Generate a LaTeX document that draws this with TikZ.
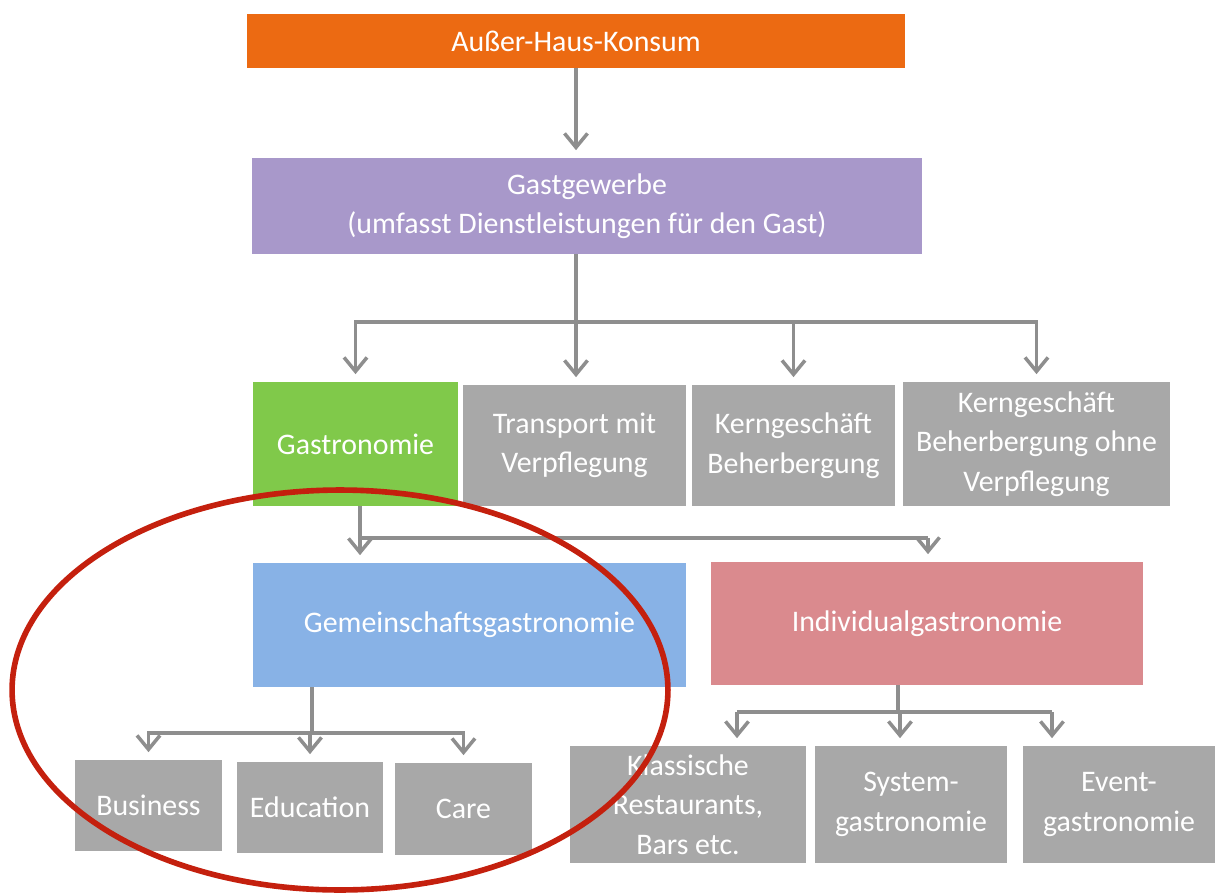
\documentclass[tikz,border=0pt]{standalone}
\usepackage{fontspec}
\setmainfont{Carlito}
\usetikzlibrary{positioning, arrows.meta, calc}
\definecolor{konsum}{HTML}{EC6A12}
\definecolor{gewerbe}{HTML}{A898CA}
\definecolor{gastro}{HTML}{80C94A}
\definecolor{grau}{HTML}{A8A8A8}
\definecolor{gemein}{HTML}{88B2E6}
\definecolor{indiv}{HTML}{DA8A8E}
\definecolor{pfeil}{HTML}{8E8E8E}
\definecolor{ring}{HTML}{C4200E}

\begin{document}
\begin{tikzpicture}[x=0.02cm, y=-0.02cm,
    box/.style={fill=#1, text=white, align=center, inner sep=2pt,
                font=\fontsize{17}{22.5}\selectfont},
    bus/.style={pfeil, line width=2pt},
    arr/.style={bus, -{Straight Barb[length=2.8mm, width=4.6mm]}, shorten >=1.5mm}]
  \useasboundingbox (0,0) rectangle (1219,895);

  % Level 1 and 2
  \node[box=konsum, minimum width=13.16cm, minimum height=1.08cm] (haus) at (576,41) {Außer-Haus-Konsum};
  \node[box=gewerbe, minimum width=13.4cm, minimum height=1.92cm] (gewerbe) at (587,206)
    {Gastgewerbe\\(umfasst Dienstleistungen für den Gast)};

  % Level 3
  \node[box=gastro, minimum width=4.1cm, minimum height=2.48cm] (gastro) at (355.5,444) {Gastronomie};
  \node[box=grau, minimum width=4.46cm, minimum height=2.42cm] (transport) at (574.5,445.5)
    {Transport mit\\Verpflegung};
  \node[box=grau, minimum width=4.06cm, minimum height=2.42cm] (kern) at (793.5,445.5)
    {Kerngeschäft\\Beherbergung};
  \node[box=grau, minimum width=5.34cm, minimum height=2.48cm] (ohne) at (1036.5,444)
    {Kerngeschäft\\Beherbergung ohne\\Verpflegung};

  % Level 4
  \node[box=gemein, minimum width=8.66cm, minimum height=2.48cm] (gemein) at (469.5,625)
    {Gemeinschaftsgastronomie};
  \node[box=indiv, minimum width=8.64cm, minimum height=2.46cm] (indiv) at (927,623.5)
    {Individualgastronomie};

  % Level 5
  \node[box=grau, minimum width=2.94cm, minimum height=1.82cm] (business) at (148.5,805.5) {Business};
  \node[box=grau, minimum width=2.92cm, minimum height=1.82cm] (education) at (310,807.5) {Education};
  \node[box=grau, minimum width=2.74cm, minimum height=1.84cm] (care) at (463.5,809) {Care};
  \node[box=grau, minimum width=4.72cm, minimum height=2.34cm] (klassisch) at (688,804.5)
    {Klassische\\Restaurants,\\Bars etc.};
  \node[box=grau, minimum width=3.84cm, minimum height=2.34cm] (system) at (911,804.5)
    {System-\\gastronomie};
  \node[box=grau, minimum width=3.84cm, minimum height=2.34cm] (event) at (1119,804.5)
    {Event-\\gastronomie};

  % Connectors
  \draw[arr] (haus) -- (haus |- gewerbe.north);

  \coordinate (g1) at (576,322);
  \draw[bus] (gewerbe.south -| g1) -- (g1);
  \draw[arr] (g1) -| (gastro);
  \draw[arr] (g1) -- (g1 |- transport.north);
  \draw[arr] (g1) -| (kern);
  \draw[arr] (g1) -| (ohne);

  \coordinate (g2) at (360,538);
  \coordinate (g2r) at (928,538);
  \draw[bus] (gastro.south -| g2) -- (g2) -- (g2r);
  \draw[arr] (g2) -- (g2 |- gemein.north);
  \draw[arr] (g2r) -- (g2r |- indiv.north);

  \coordinate (g3) at (312,733);
  \draw[bus] (gemein.south -| g3) -- (g3);
  \draw[arr] (g3) -| (business);
  \draw[arr] (g3) -| (education);
  \draw[arr] (g3) -| (care);

  \coordinate (g4) at (898,712);
  \coordinate (g4l) at (737,712);
  \coordinate (g4m) at (900,712);
  \coordinate (g4r) at (1052,712);
  \draw[bus] (indiv.south -| g4) -- (g4);
  \draw[bus] (g4l) -- (g4r);
  \draw[arr] (g4l) -- (g4l |- klassisch.north);
  \draw[arr] (g4m) -- (g4m |- system.north);
  \draw[arr] (g4r) -- (g4r |- event.north);

  % Highlight
  \draw[ring, line width=3.2pt] (340,690) ellipse [x radius=6.56cm, y radius=4cm];
\end{tikzpicture}
\end{document}
